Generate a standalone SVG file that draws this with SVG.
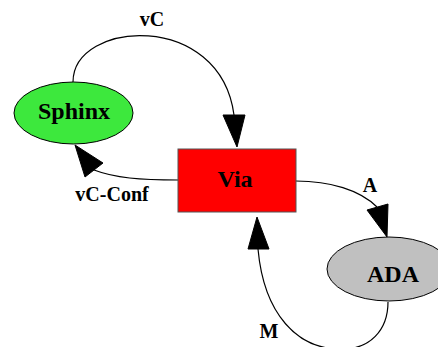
<svg xmlns="http://www.w3.org/2000/svg" width="438" height="347" viewBox="0 0 438 347">
<style>
text{font-family:"Liberation Serif","Times New Roman",serif;font-weight:bold;text-anchor:middle;fill:#000}
.n{font-size:24px}
.l{font-size:20px}
.e{fill:none;stroke:#000;stroke-width:1.2}
.h{fill:#000;stroke:#000}
</style>
<rect width="438" height="347" fill="#fff"/>
<g id="edges">
<path class="e" d="M73,82 C73,20 220,10 234,115"/>
<polygon class="h" points="223,115 245,115 237,147"/>
<text class="l" x="152" y="26">vC</text>
<path class="e" d="M178,180 C140,180 115,178 94,170"/>
<polygon class="h" points="85,177 103,163 75,145"/>
<text class="l" x="112" y="201">vC-Conf</text>
<path class="e" d="M296,181 C330,181 360,190 377,207"/>
<polygon class="h" points="367,210 388,204 387,237"/>
<text class="l" x="370" y="192">A</text>
<path class="e" d="M388,302 C388,330 370,350 340,349 C298,349 264,315 258,249"/>
<polygon class="h" points="248,249 269,249 257,217"/>
<text class="l" x="269" y="338">M</text>
</g>
<g id="Sphinx">
<ellipse cx="73.5" cy="113" rx="59.5" ry="31" fill="#3de83d" stroke="#000"/>
<text class="n" x="74" y="119">Sphinx</text>
</g>
<g id="Via">
<rect x="178" y="149" width="118" height="63" fill="#ff0000" stroke="#555"/>
<text class="n" x="235" y="187">Via</text>
</g>
<g id="ADA">
<ellipse cx="389" cy="269" rx="62" ry="32" fill="#c0c0c0" stroke="#000"/>
<text class="n" x="393" y="282">ADA</text>
</g>
</svg>
